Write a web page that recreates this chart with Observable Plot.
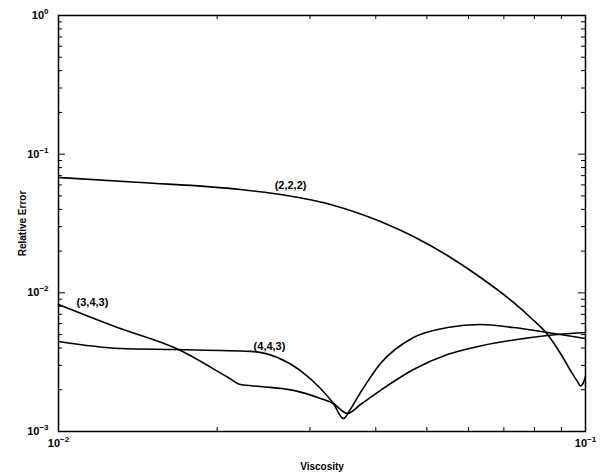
<!DOCTYPE html>
<html>
<head>
<meta charset="utf-8">
<script src="https://cdn.jsdelivr.net/npm/d3@7"></script>
<script src="https://cdn.jsdelivr.net/npm/@observablehq/plot@0.6"></script>
<style>
  body { margin: 0; background: #fff; }
  svg text { font-family: "Liberation Sans", Arial, Helvetica, sans-serif; }
</style>
</head>
<body>
<div id="chart"></div>
<script>
// Curve (2,2,2)
const x222 = [0.0100, 0.01431, 0.02215, 0.02559, 0.03281, 0.04083, 0.04716, 0.05470, 0.06322, 0.07302, 0.07862, 0.08471, 0.08966, 0.09366, 0.09656, 0.09784, 0.09913, 0.1000];
const y222 = [0.0679, 0.0625, 0.0556, 0.0520, 0.0434, 0.03269, 0.02548, 0.01859, 0.0129, 0.00852, 0.00664, 0.00501, 0.00365, 0.00275, 0.00229, 0.00213, 0.00226, 0.00249];
// Curve (3,4,3)
const x343 = [0.0100, 0.01294, 0.01689, 0.02102, 0.02215, 0.02416, 0.02792, 0.03142, 0.03324, 0.03534, 0.03742, 0.04083, 0.04716, 0.05470, 0.06322, 0.07302, 0.08471, 0.1000];
const y343 = [0.00824, 0.00562, 0.00390, 0.002443, 0.00218, 0.00211, 0.00198, 0.00173, 0.00159, 0.00135, 0.001566, 0.00198, 0.0028, 0.00359, 0.00414, 0.00457, 0.00493, 0.00518];
// Curve (4,4,3)
const x443 = [0.0100, 0.01311, 0.01667, 0.02313, 0.02603, 0.02878, 0.03142, 0.03324, 0.03474, 0.03581, 0.03742, 0.04083, 0.04716, 0.05470, 0.06322, 0.07302, 0.08471, 0.1000];
const y443 = [0.00446, 0.00397, 0.00390, 0.00378, 0.00342, 0.00275, 0.00204, 0.00159, 0.00124, 0.00145, 0.00191, 0.00309, 0.00476, 0.00562, 0.00591, 0.00562, 0.00518, 0.00469];

// Curve labels
const labelText = ["(2,2,2)", "(3,4,3)", "(4,4,3)"];
const labelX = [0.02756, 0.0116, 0.02514];
const labelY = [0.0594, 0.00852, 0.0041];

// Axis ticks
const xMajor = [0.01, 0.1];
const yMajor = [0.001, 0.01, 0.1, 1];
const xTickLabels = ["10^-2", "10^-1"];
const yTickLabels = ["10^-3", "10^-2", "10^-1", "10^0"];

const mk = (xs, ys, name) => xs.map((x, i) => ({x, y: ys[i], name}));
const lines = [...mk(x222, y222, "(2,2,2)"), ...mk(x343, y343, "(3,4,3)"), ...mk(x443, y443, "(4,4,3)")];
const labels = labelText.map((t, i) => ({t, x: labelX[i], y: labelY[i]}));

const minorOf = (majors) => majors.slice(0, -1).flatMap(d => [2,3,4,5,6,7,8,9].map(k => k * d));
const xMinor = minorOf(xMajor);
const yMinor = minorOf(yMajor);

const W = 607, H = 475, mt = 15, mb = 44, ml = 58, mr = 22;
const iw = W - ml - mr, ih = H - mt - mb;

const chart = Plot.plot({
  width: W, height: H,
  marginTop: mt, marginBottom: mb, marginLeft: ml, marginRight: mr,
  x: {type: "log", domain: [0.01, 0.1]},
  y: {type: "log", domain: [0.001, 1]},
  style: {fontFamily: "Liberation Sans, Arial, sans-serif", color: "#000", background: "#fff"},
  marks: [
    Plot.axisX({ticks: xMajor, tickSize: 0, tickPadding: 8, fontSize: 11, fontWeight: "bold",
      tickFormat: (d) => xTickLabels[xMajor.indexOf(d)],
      label: "Viscosity", labelAnchor: "center", labelOffset: 38, labelArrow: "none"}),
    Plot.axisY({ticks: yMajor, tickSize: 0, tickPadding: 10, fontSize: 11, fontWeight: "bold",
      tickFormat: (d) => yTickLabels[yMajor.indexOf(d)],
      label: "Relative Error", labelAnchor: "center", labelOffset: 40, labelArrow: "none"}),
    // inward minor ticks on all four sides
    Plot.ruleX(xMinor, {x: d => d, insetTop: ih - 4, stroke: "#000"}),
    Plot.ruleX(xMinor, {x: d => d, insetBottom: ih - 4, stroke: "#000"}),
    Plot.ruleY(yMinor, {y: d => d, insetRight: iw - 4, stroke: "#000"}),
    Plot.ruleY(yMinor, {y: d => d, insetLeft: iw - 4, stroke: "#000"}),
    Plot.ruleX(xMajor, {x: d => d, insetTop: ih - 7, stroke: "#000"}),
    Plot.ruleX(xMajor, {x: d => d, insetBottom: ih - 7, stroke: "#000"}),
    Plot.ruleY(yMajor, {y: d => d, insetRight: iw - 7, stroke: "#000"}),
    Plot.ruleY(yMajor, {y: d => d, insetLeft: iw - 7, stroke: "#000"}),
    Plot.frame({stroke: "#000", strokeWidth: 1.5}),
    Plot.line(lines, {x: "x", y: "y", z: "name", stroke: "#000", strokeWidth: 1.6, curve: "monotone-x"}),
    Plot.text(labels, {x: "x", y: "y", text: "t", fontSize: 11, fontWeight: "bold", fill: "#000"})
  ]
});
chart.querySelectorAll("[aria-label='x-axis label'] text, [aria-label='y-axis label'] text").forEach(t => {
  t.setAttribute("font-weight", "bold");
  t.setAttribute("font-size", "10");
});
// render exponents as raised text
chart.querySelectorAll("[aria-label='x-axis tick label'] text, [aria-label='y-axis tick label'] text").forEach(t => {
  const s = t.textContent;
  if (!s.includes("^")) return;
  const [base, exp] = s.split("^");
  t.textContent = base;
  const sup = document.createElementNS("http://www.w3.org/2000/svg", "tspan");
  sup.setAttribute("dy", "-5");
  sup.setAttribute("font-size", "8");
  sup.textContent = exp.replace("-", "\u2212");
  t.appendChild(sup);
});
document.getElementById("chart").appendChild(chart);
</script>
</body>
</html>
